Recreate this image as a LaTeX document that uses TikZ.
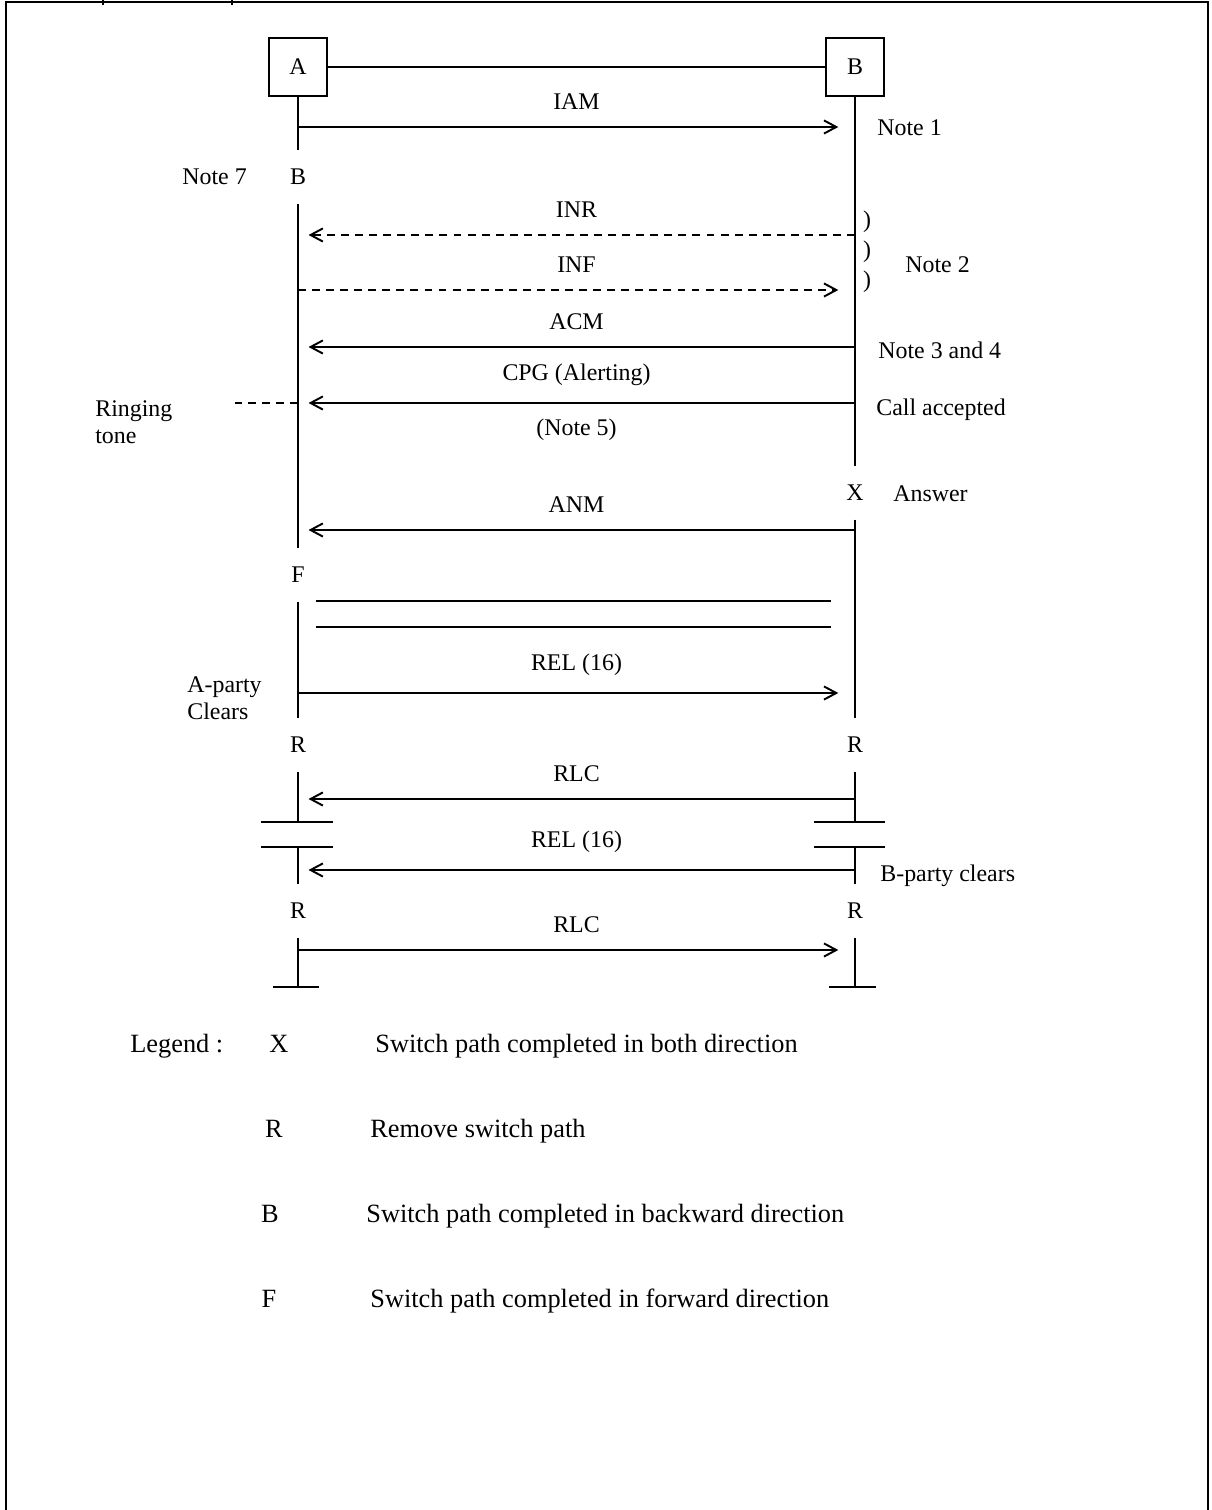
\documentclass[tikz,border=0pt]{standalone}
\usepackage{fontspec}
\setmainfont{Liberation Serif}
\usetikzlibrary{arrows.meta, positioning}

\tikzset{
	every node/.style={font=\fontsize{13.6}{15.5}\selectfont},
	entity/.style={draw, line width=1.1pt, minimum width=33.5pt, minimum height=33pt, inner sep=0pt},
	state/.style={inner sep=0pt, minimum height=30pt, minimum width=10pt},
	life/.style={line width=1.1pt},
	fwd/.style={line width=1.1pt, -{Straight Barb[length=7pt, width=7.5pt]}, shorten >=9.5pt},
	bwd/.style={line width=1.1pt, -{Straight Barb[length=7pt, width=7.5pt]}, shorten >=6pt},
	dashline/.style={dash pattern=on 4.5pt off 3.5pt},
	note/.style={anchor=base west, inner sep=0pt},
	legtext/.style={anchor=base west, inner sep=0pt, font=\fontsize{15}{18}\selectfont},
}

\begin{document}
\begin{tikzpicture}[x=0.02cm, y=-0.02cm]
	\useasboundingbox (0,0) rectangle (1211,1510);
	% frame
	\draw[line width=1.5pt] (6,1510) -- (6,2) -- (1208,2) -- (1208,1510);
	\draw[line width=1pt] (103,0) -- (103,5) (232,0) -- (232,5);

	% exchanges
	\node[entity] (A) at (298,67) {A};
	\node[entity] (B) at (855,67) {B};
	\draw[life] (A) to (B);

	% switch states on the lifelines
	\node[state] (aB) at (298,177) {B};
	\node[state] (aF) at (298,575) {F};
	\node[state] (aR1) at (298,745) {R};
	\node[state] (aR2) at (298,911) {R};
	\node[state] (bX) at (855,493) {X};
	\node[state] (bR1) at (855,745) {R};
	\node[state] (bR2) at (855,911) {R};

	\coordinate (aCut1) at (298,822);
	\coordinate (aCut2) at (298,847);
	\coordinate (aEnd) at (298,987);
	\coordinate (bCut1) at (855,822);
	\coordinate (bCut2) at (855,847);
	\coordinate (bEnd) at (855,987);

	% lifelines
	\draw[life] (A) to (aB);
	\draw[life] (aB) to (aF);
	\draw[life] (aF) to (aR1);
	\draw[life] (aR1) to (aCut1);
	\draw[life] (aCut2) to (aR2);
	\draw[life] (aR2) to (aEnd);
	\draw[life] (B) to (bX);
	\draw[life] (bX) to (bR1);
	\draw[life] (bR1) to (bCut1);
	\draw[life] (bCut2) to (bR2);
	\draw[life] (bR2) to (bEnd);

	\draw[life] (aCut1) ++(-37,0) -- ++(72,0);
	\draw[life] (aCut2) ++(-37,0) -- ++(72,0);
	\draw[life] (aEnd) ++(-25,0) -- ++(46,0);
	\draw[life] (bCut1) ++(-41,0) -- ++(71,0);
	\draw[life] (bCut2) ++(-41,0) -- ++(71,0);
	\draw[life] (bEnd) ++(-26,0) -- ++(47,0);

	% message ends on both lifelines
	\foreach \n/\y in {iam/127, inr/235, inf/290, acm/347, cpg/403, anm/530, path1/601, path2/627, relA/693, rlcA/799, relB/870, rlcB/950} {
		\coordinate (a-\n) at (298,\y);
		\coordinate (b-\n) at (855,\y);
	}

	% messages
	\draw[fwd] (a-iam) to node[above=6pt] {IAM} (b-iam);
	\draw[bwd, dashline] (b-inr) to node[above=6pt] {INR} (a-inr);
	\draw[fwd, dashline] (a-inf) to node[above=6pt] {INF} (b-inf);
	\draw[bwd] (b-acm) to node[above=6pt] {ACM} (a-acm);
	\draw[bwd] (b-cpg) to node[above=6pt] {CPG (Alerting)} node[below=5pt] {(Note 5)} (a-cpg);
	\draw[bwd] (b-anm) to node[above=6pt] {ANM} (a-anm);
	\draw[life, shorten <=10pt, shorten >=13.5pt] (a-path1) to (b-path1);
	\draw[life, shorten <=10pt, shorten >=13.5pt] (a-path2) to (b-path2);
	\draw[fwd] (a-relA) to node[above=6pt] {REL (16)} (b-relA);
	\draw[bwd] (b-rlcA) to node[above=6pt] {RLC} (a-rlcA);
	\draw[bwd] (b-relB) to node[above=6pt] {REL (16)} (a-relB);
	\draw[fwd] (a-rlcB) to node[above=6pt] {RLC} (b-rlcB);

	% ringing tone
	\draw[line width=1pt, dashline] (a-cpg) to ++(-63,0);

	% notes
	\node[note] (note1) at (877,136) {Note 1};
	\node[note] (note7) at (182,185) {Note 7};
	\node (par1) at (867,222) {)};
	\node (par2) at (867,252) {)};
	\node (par3) at (867,282) {)};
	\node[note] (note2) at (905,273) {Note 2};
	\node[note] (note34) at (878,358) {Note 3 and 4};
	\node[note] (accepted) at (876,415) {Call accepted};
	\node[note] (ringing) at (95,416) {Ringing};
	\node[note] (tone) at (95,443) {tone};
	\node[note] (answer) at (893,501) {Answer};
	\node[note] (aparty) at (187,692) {A-party};
	\node[note] (aclears) at (187,719) {Clears};
	\node[note] (bclears) at (880,881) {B-party clears};

	% legend
	\node[legtext] (legend) at (130,1052) {Legend :};
	\node[legtext, anchor=base] (legX) at (279,1052) {X};
	\node[legtext] (legXt) at (375,1052) {Switch path completed in both direction};
	\node[legtext, anchor=base] (legR) at (274,1137) {R};
	\node[legtext] (legRt) at (370,1137) {Remove switch path};
	\node[legtext, anchor=base] (legB) at (270,1222) {B};
	\node[legtext] (legBt) at (366,1222) {Switch path completed in backward direction};
	\node[legtext, anchor=base] (legF) at (269,1307) {F};
	\node[legtext] (legFt) at (370,1307) {Switch path completed in forward direction};
\end{tikzpicture}
\end{document}
